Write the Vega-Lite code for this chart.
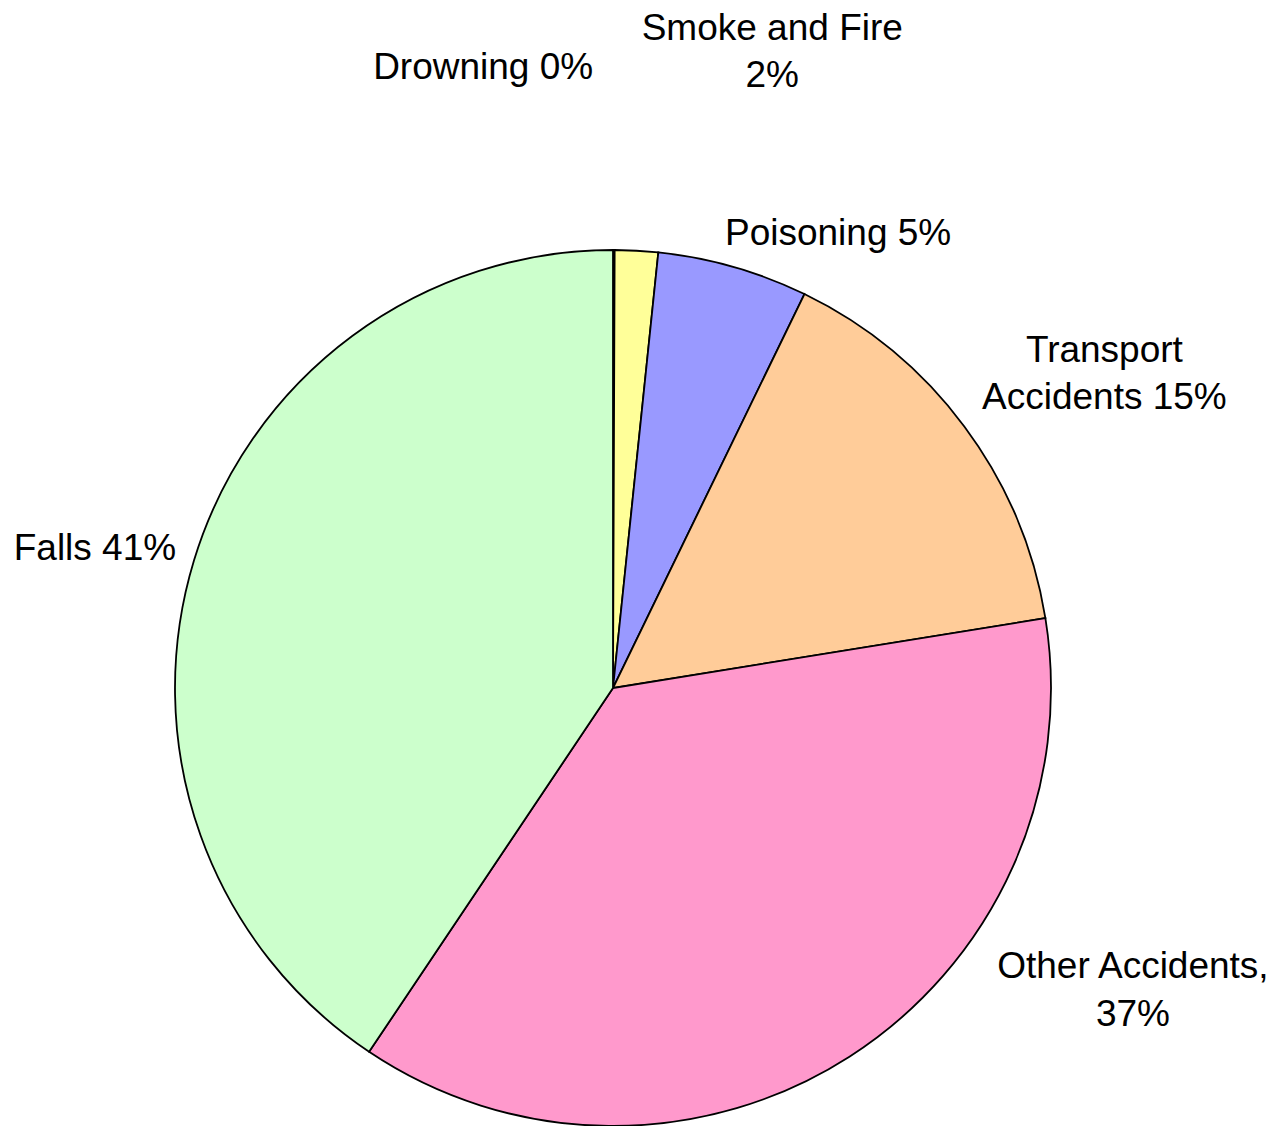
{
  "$schema": "https://vega.github.io/schema/vega-lite/v6.json",
  "width": 1226,
  "height": 876,
  "autosize": "none",
  "padding": {"left": 0, "top": 250, "right": 50, "bottom": 0},
  "background": "white",
  "config": {"view": {"stroke": null}, "text": {"font": "Liberation Sans", "fontSize": 37, "fill": "black"}},
  "data": {
    "values": [
      {"rank": 1, "cat": "Drowning", "pct": 0.06, "label": "Drowning 0%"},
      {"rank": 2, "cat": "Smoke and Fire", "pct": 1.59, "label": "Smoke and Fire\n2%"},
      {"rank": 3, "cat": "Poisoning", "pct": 5.55, "label": "Poisoning 5%"},
      {"rank": 4, "cat": "Transport Accidents", "pct": 15.25, "label": "Transport\nAccidents 15%"},
      {"rank": 5, "cat": "Other Accidents", "pct": 36.95, "label": "Other Accidents,\n37%"},
      {"rank": 6, "cat": "Falls", "pct": 40.6, "label": "Falls 41%"}
    ]
  },
  "encoding": {
    "theta": {"field": "pct", "type": "quantitative", "stack": true},
    "order": {"field": "rank", "type": "quantitative"}
  },
  "layer": [
    {
      "mark": {"type": "arc", "outerRadius": 438, "stroke": "black", "strokeWidth": 1.8},
      "encoding": {
        "color": {
          "field": "cat",
          "type": "nominal",
          "legend": null,
          "scale": {
            "domain": ["Drowning", "Smoke and Fire", "Poisoning", "Transport Accidents", "Other Accidents", "Falls"],
            "range": ["#CCFFCC", "#FFFF99", "#9999FF", "#FFCC99", "#FF99CC", "#CCFFCC"]
          }
        }
      }
    },
    {
      "mark": {"type": "text", "radius": 621, "dx": -131, "dy": 1, "align": "center", "baseline": "middle", "lineBreak": "\n"},
      "encoding": {"text": {"condition": {"test": "datum.cat === 'Drowning'", "field": "label"}, "value": ""}}
    },
    {
      "mark": {"type": "text", "radius": 638, "dx": 125, "dy": -22, "align": "center", "baseline": "middle", "lineBreak": "\n", "lineHeight": 47},
      "encoding": {"text": {"condition": {"test": "datum.cat === 'Smoke and Fire'", "field": "label"}, "value": ""}}
    },
    {
      "mark": {"type": "text", "radius": 474, "dx": 95, "dy": 2, "align": "center", "baseline": "middle", "lineBreak": "\n"},
      "encoding": {"text": {"condition": {"test": "datum.cat === 'Poisoning'", "field": "label"}, "value": ""}}
    },
    {
      "mark": {"type": "text", "radius": 560, "dx": 42, "dy": -3, "align": "center", "baseline": "middle", "lineBreak": "\n", "lineHeight": 47},
      "encoding": {"text": {"condition": {"test": "datum.cat === 'Transport Accidents'", "field": "label"}, "value": ""}}
    },
    {
      "mark": {"type": "text", "radius": 400, "dx": 304, "dy": -58, "align": "center", "baseline": "middle", "lineBreak": "\n", "lineHeight": 48},
      "encoding": {"text": {"condition": {"test": "datum.cat === 'Other Accidents'", "field": "label"}, "value": ""}}
    },
    {
      "mark": {"type": "text", "radius": 530, "dx": -11, "dy": 15, "align": "center", "baseline": "middle", "lineBreak": "\n"},
      "encoding": {"text": {"condition": {"test": "datum.cat === 'Falls'", "field": "label"}, "value": ""}}
    }
  ]
}
